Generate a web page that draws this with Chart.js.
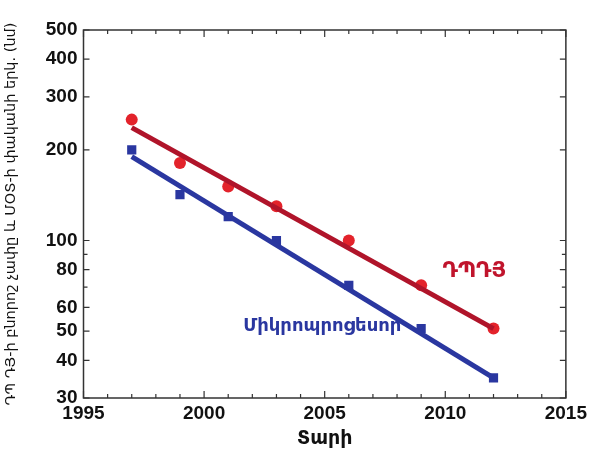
<!DOCTYPE html>
<html>
<head>
<meta charset="utf-8">
<script src="https://cdn.jsdelivr.net/npm/chart.js@4"></script>
<style>
  html, body { margin: 0; padding: 0; background: #fff; }
  #wrap { width: 591px; height: 450px; }
</style>
</head>
<body>
<div id="wrap"><canvas id="myChart" width="591" height="450"></canvas></div>
<script>
// Տվյալներ
const dramYears = [1997, 1999, 2001, 2003, 2006, 2009, 2012];
const dramValues = [252, 181, 151, 130, 100, 71, 51];
const cpuYears = [1997, 1999, 2001, 2003, 2006, 2009, 2012];
const cpuValues = [200, 142, 120, 100, 71, 51, 35];

// Գծային մոտարկում (ծայրակետեր)
const fitYears = [1997, 2012];
const dramFit = [237, 51];
const cpuFit = [190, 35];

// Առանցքների նշումներ
const xTicks = [1995, 2000, 2005, 2010, 2015];
const yTicks = [30, 40, 50, 60, 70, 80, 90, 100, 200, 300, 400, 500];
const yLabeled = [30, 40, 50, 60, 80, 100, 200, 300, 400, 500];

const dramLabel = "ԴՊԴՅ";
const cpuLabel = "Միկրոպրոցեսոր";
const xTitle = "Տարի";
const yTitle = "ԴՊ ԴՅ-ի բնորոշ չափը և ՄՕՏ-ի փականի երկ. (նմ)";

const RED = "#e3232b";
const RED_LINE = "#b0142a";
const BLUE = "#2a37a0";

const toPoints = (xs, ys) => xs.map((x, i) => ({ x: x, y: ys[i] }));

// Շրջանակ և ներս ուղղված նշագծեր
const framePlugin = {
    id: "frame",
    afterDraw(chart) {
        const { ctx, chartArea: a, scales } = chart;
        ctx.save();
        ctx.strokeStyle = "#333";
        ctx.lineWidth = 1.5;
        ctx.strokeRect(a.left, a.top, a.right - a.left, a.bottom - a.top);
        ctx.lineWidth = 1.2;
        for (let yr = 1995; yr <= 2015; yr++) {
            const px = scales.x.getPixelForValue(yr);
            const len = yr % 5 === 0 ? 7 : 4;
            ctx.beginPath();
            ctx.moveTo(px, a.bottom); ctx.lineTo(px, a.bottom - len);
            ctx.moveTo(px, a.top); ctx.lineTo(px, a.top + len);
            ctx.stroke();
        }
        yTicks.forEach(v => {
            const py = scales.y.getPixelForValue(v);
            const len = yLabeled.includes(v) ? 6 : 4;
            ctx.beginPath();
            ctx.moveTo(a.left, py); ctx.lineTo(a.left + len, py);
            ctx.moveTo(a.right, py); ctx.lineTo(a.right - len, py);
            ctx.stroke();
        });
        // Գծերի անվանումներ
        ctx.textAlign = "center";
        ctx.textBaseline = "middle";
        ctx.fillStyle = "#c0142c";
        ctx.font = "bold 21px 'DejaVu Sans', sans-serif";
        ctx.fillText(dramLabel, scales.x.getPixelForValue(2011.2), scales.y.getPixelForValue(79));
        ctx.fillStyle = BLUE;
        ctx.font = "bold 18px 'DejaVu Sans', sans-serif";
        ctx.fillText(cpuLabel, scales.x.getPixelForValue(2004.9), scales.y.getPixelForValue(52));
        ctx.restore();
    }
};

const ctx = document.getElementById("myChart").getContext("2d");
const myChart = new Chart(ctx, {
    type: "scatter",
    data: {
        datasets: [
            {
                label: "dramFit",
                data: toPoints(fitYears, dramFit),
                showLine: true,
                borderColor: RED_LINE,
                borderWidth: 5,
                pointRadius: 0
            },
            {
                label: "cpuFit",
                data: toPoints(fitYears, cpuFit),
                showLine: true,
                borderColor: BLUE,
                borderWidth: 5,
                pointRadius: 0
            },
            {
                label: dramLabel,
                data: toPoints(dramYears, dramValues),
                pointStyle: "circle",
                pointRadius: 6,
                backgroundColor: RED,
                borderColor: RED,
                borderWidth: 0
            },
            {
                label: cpuLabel,
                data: toPoints(cpuYears, cpuValues),
                pointStyle: "rect",
                pointRadius: 6.5,
                backgroundColor: BLUE,
                borderColor: BLUE,
                borderWidth: 0
            }
        ]
    },
    options: {
        responsive: false,
        animation: false,
        layout: { padding: { top: 30, right: 20, left: 0, bottom: 0 } },
        plugins: {
            legend: { display: false },
            tooltip: { enabled: false }
        },
        scales: {
            x: {
                type: "linear",
                min: 1995,
                max: 2015,
                afterBuildTicks: s => { s.ticks = xTicks.map(v => ({ value: v })); },
                afterFit: s => { s.height = 52; },
                grid: { display: false, drawTicks: false },
                border: { display: false },
                ticks: {
                    color: "#111",
                    padding: 4,
                    maxRotation: 0,
                    callback: v => String(v),
                    font: { family: "'Liberation Sans', Arial, sans-serif", size: 19, weight: "bold" }
                },
                title: {
                    display: true,
                    text: xTitle,
                    color: "#111",
                    padding: { top: 0, bottom: 0 },
                    font: { family: "'DejaVu Sans', sans-serif", size: 19, weight: "bold" }
                }
            },
            y: {
                type: "logarithmic",
                min: 30,
                max: 500,
                afterBuildTicks: s => { s.ticks = yTicks.map(v => ({ value: v })); },
                afterFit: s => { s.width = 83.5; },
                grid: { display: false, drawTicks: false },
                border: { display: false },
                ticks: {
                    color: "#111",
                    padding: 6,
                    autoSkip: false,
                    callback: v => yLabeled.includes(v) ? String(v) : "",
                    font: { family: "'Liberation Sans', Arial, sans-serif", size: 19, weight: "bold" }
                },
                title: {
                    display: true,
                    text: yTitle,
                    color: "#111",
                    padding: { top: 3, bottom: 0 },
                    font: { family: "'DejaVu Sans', sans-serif", size: 14.5 }
                }
            }
        }
    },
    plugins: [framePlugin]
});
</script>
</body>
</html>
